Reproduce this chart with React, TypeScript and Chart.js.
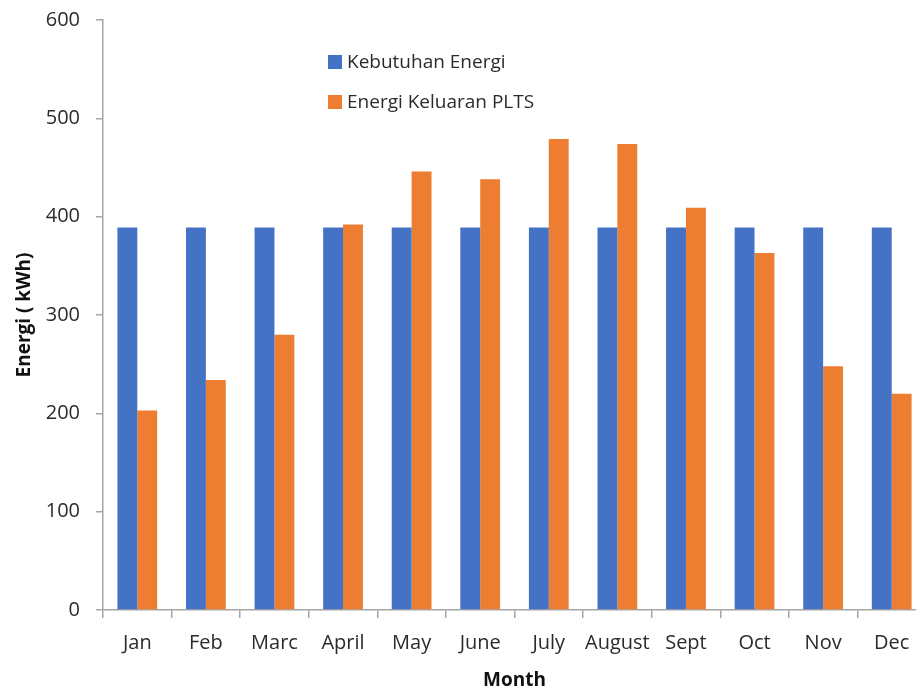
import React, { useEffect, useRef } from "react";
import { Chart, registerables } from "chart.js";

Chart.register(...registerables);

const months = ["Jan", "Feb", "Marc", "April", "May", "June", "July", "August", "Sept", "Oct", "Nov", "Dec"];
const kebutuhanEnergi = [389, 389, 389, 389, 389, 389, 389, 389, 389, 389, 389, 389];
const energiKeluaranPLTS = [203, 234, 280, 392, 446, 438, 479, 474, 409, 363, 248, 220];
const seriesLabels = ["Kebutuhan Energi", "Energi Keluaran PLTS"];
const yTicks = [0, 100, 200, 300, 400, 500, 600];

const BLUE = "#4472C4";
const ORANGE = "#ED7D31";
const AXIS = "#A6A6A6";
const TEXT = "#2B2B2B";
const FONT = "'Open Sans', sans-serif";

const insideLegend = {
  id: "insideLegend",
  afterDraw(chart: any) {
    const ctx = chart.ctx;
    ctx.save();
    ctx.font = `19px ${FONT}`;
    ctx.textBaseline = "middle";
    ctx.textAlign = "left";
    chart.data.datasets.forEach((ds: any, i: number) => {
      const y = 62 + i * 40;
      ctx.fillStyle = ds.backgroundColor;
      ctx.fillRect(328, y - 7, 14, 14);
      ctx.fillStyle = TEXT;
      ctx.fillText(ds.label, 347, y + 1);
    });
    ctx.restore();
  },
};

export default function App() {
  const ref = useRef<HTMLCanvasElement | null>(null);

  useEffect(() => {
    if (!ref.current) return;
    const chart = new Chart(ref.current, {
      type: "bar",
      data: {
        labels: months,
        datasets: [
          { label: seriesLabels[0], data: kebutuhanEnergi, backgroundColor: BLUE, borderWidth: 0 },
          { label: seriesLabels[1], data: energiKeluaranPLTS, backgroundColor: ORANGE, borderWidth: 0 },
        ],
      },
      options: {
        animation: false,
        responsive: false,
        devicePixelRatio: 1,
        layout: { padding: { top: 20, right: 14, left: 0, bottom: 0 } },
        datasets: { bar: { categoryPercentage: 0.58, barPercentage: 1 } },
        plugins: {
          legend: { display: false },
          tooltip: { enabled: false },
        },
        scales: {
          x: {
            offset: true,
            grid: { display: true, offset: true, drawOnChartArea: false, drawTicks: true, tickLength: 8, color: AXIS, lineWidth: 1.5 },
            border: { display: true, color: AXIS, width: 1.5 },
            ticks: { color: TEXT, font: { family: FONT, size: 20 }, padding: 13, maxRotation: 0, autoSkip: false },
            title: { display: true, text: "Month", color: "#111", font: { family: FONT, size: 19, weight: "bold", lineHeight: 0.8 }, padding: 0 },
            afterFit(scale: any) { scale.height = 78; scale.paddingLeft = 0; scale.paddingRight = 0; },
          },
          y: {
            min: 0,
            max: 600,
            afterBuildTicks(scale: any) { scale.ticks = yTicks.map((v) => ({ value: v })); },
            grid: { display: true, drawOnChartArea: false, drawTicks: true, tickLength: 7, color: AXIS, lineWidth: 1.5 },
            border: { display: true, color: AXIS, width: 1.5 },
            ticks: { color: TEXT, font: { family: FONT, size: 20 }, padding: 16 },
            title: { display: true, text: "Energi ( kWh)", color: "#111", font: { family: FONT, size: 19, weight: "bold", lineHeight: 1 }, padding: { top: 15, bottom: 0 } },
            afterFit(scale: any) { scale.width = 103; scale.paddingTop = 0; scale.paddingBottom = 0; },
          },
        },
      },
      plugins: [insideLegend],
    });
    return () => chart.destroy();
  }, []);

  return (
    <div style={{ position: "fixed", left: 0, top: 0, width: 916, height: 688, overflow: "hidden", background: "#fff" }}>
      <canvas ref={ref} width={940} height={688} style={{ width: 940, height: 688, display: "block" }} />
    </div>
  );
}
